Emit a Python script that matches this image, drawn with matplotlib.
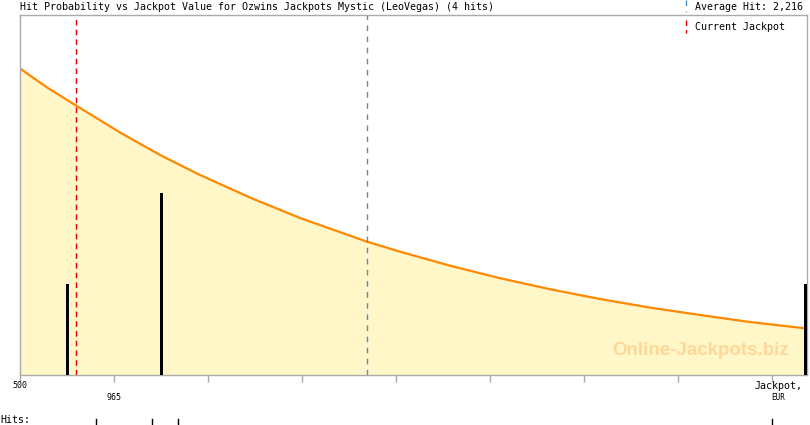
import matplotlib
matplotlib.use('Agg')
import matplotlib.pyplot as plt
from matplotlib.lines import Line2D

# jackpot value (EUR) vs relative hit probability
curve_x = [500, 638, 777, 995, 1193, 1380, 1638, 1885, 2217, 2380, 2627,
           2874, 3122, 3369, 3616, 3864, 4111, 4400]
curve_y = [306.5, 287, 269.5, 242.5, 220, 201, 177.4, 157, 133.3, 123.3, 109.3,
           96.8, 85.8, 76, 67.4, 60, 53, 46.3]

# recorded hits (jackpot value at hit, number of hits)
hit_x = [737, 1202, 4388]
hit_n = [1, 2, 1]

# small hit markers on the bottom strip
hit_marks = [876, 1151, 1283, 4220]

average_hit = 2216
current_jackpot = 778
tick_step = 465
x_min, x_max = 500, 4393

title = 'Hit Probability vs Jackpot Value for Ozwins Jackpots Mystic (LeoVegas) (4 hits)'

W, H = 810, 425
fig = plt.figure(figsize=(W / 100, H / 100), dpi=100)
L, R, T, B = 20, 807, 15, 375
ax = fig.add_axes([L / W, 1 - B / H, (R - L) / W, (B - T) / H])

ax.fill_between(curve_x, curve_y, 0, color='#FFF7C8', lw=0)
ax.plot(curve_x, curve_y, color='#FF8800', lw=1.6, solid_capstyle='butt')
ax.axvline(current_jackpot, color='#DD0000', lw=1, ls=(0, (4, 3)))
ax.axvline(average_hit, color='#4A90C4', lw=1, ls=(0, (4, 4)))
ax.set_xlim(x_min, x_max)
ax.set_ylim(0, 360)

ax2 = ax.twinx()
ax2.bar(hit_x, hit_n, width=15, color='black', zorder=3)
ax2.set_ylim(0, 360 / 91)
ax2.set_yticks([])
ax2.axis('off')

for s in ax.spines.values():
    s.set_color('#AAAAAA')
    s.set_linewidth(1)
ax.set_yticks([])
ticks = [x_min + tick_step * k for k in range(9)]
ax.set_xticks(ticks)
ax.set_xticklabels([])
ax.tick_params(axis='x', direction='out', length=5, width=1, color='#AAAAAA')

ax.text(0.977, 0.068, 'Online-Jackpots.biz', transform=ax.transAxes,
        ha='right', va='center', fontsize=13.5, fontweight='bold',
        family='Liberation Sans', color='#FDD898', zorder=1)

mono = 'DejaVu Sans Mono'
tr = ax.get_xaxis_transform()
ax.text(ticks[0], -0.03, '500', transform=tr, ha='center', va='center',
        fontsize=6, family=mono)
ax.text(ticks[1], -0.063, '965', transform=tr, ha='center', va='center',
        fontsize=6, family=mono)
ax.text(ticks[8] + 30, -0.03, 'Jackpot,', transform=tr, ha='center', va='center',
        fontsize=7.2, family=mono)
ax.text(ticks[8] + 30, -0.063, 'EUR', transform=tr, ha='center', va='center',
        fontsize=5.5, family=mono)
for hx in hit_marks:
    ax.plot([hx, hx], [-0.122, -0.14], transform=tr, color='black', lw=1,
            clip_on=False)

fig.text(20 / W, 1 - 7 / H, title, ha='left', va='center', fontsize=7.2, family=mono)
fig.text(0, 1 - 420 / H, 'Hits:', ha='left', va='center', fontsize=7.2, family=mono)
fig.text(695 / W, 1 - 7 / H, 'Average Hit: 2,216', ha='left', va='center',
         fontsize=7.2, family=mono)
fig.text(695 / W, 1 - 27 / H, 'Current Jackpot', ha='left', va='center',
         fontsize=7.2, family=mono)
fig.add_artist(Line2D([686 / W, 686 / W], [1, 1 - 12 / H], color='#4A90C4',
                      lw=1, ls=(0, (4, 4))))
fig.add_artist(Line2D([686 / W, 686 / W], [1 - 20 / H, 1 - 33 / H], color='#DD0000',
                      lw=1, ls=(0, (4, 3))))

fig.savefig('out.png', dpi=100)
